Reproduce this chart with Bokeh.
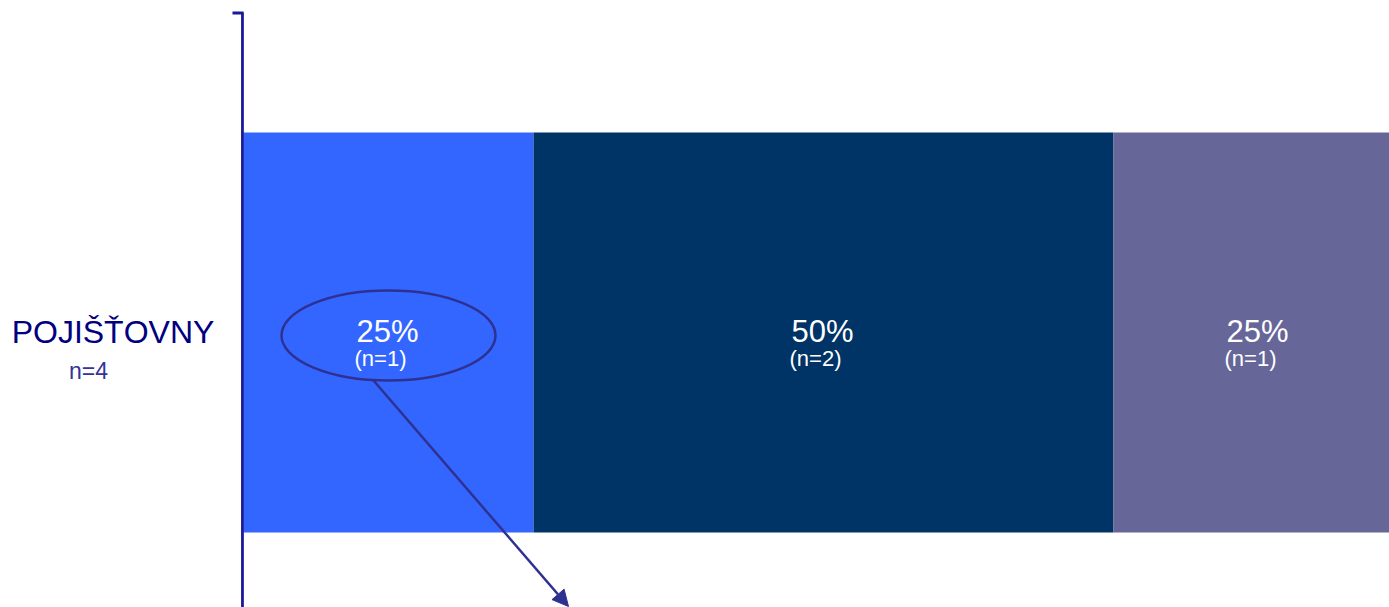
from bokeh.plotting import figure
from bokeh.models import Range1d, Arrow, NormalHead, ColumnDataSource
from bokeh.core.properties import value
from bokeh.embed import file_html
from bokeh.resources import INLINE

# ---- data ----
category = "POJIŠŤOVNY"
n_total = 4
shares = [25, 50, 25]          # percent
counts = [1, 2, 1]
colors = ["#3366FF", "#003366", "#666699"]

# ---- layout helpers (pixel geometry of the page) ----
W, H = 1389, 607
PX_PER_PCT = 11.6
X0_PX = 243
x_start = -X0_PX / PX_PER_PCT
x_end = (W - X0_PX) / PX_PER_PCT

p = figure(width=W, height=H, output_backend="svg", toolbar_location=None,
           x_range=Range1d(x_start, x_end), y_range=Range1d(H, 0),
           x_axis_location=None, y_axis_location=None, min_border=0,
           outline_line_color=None, background_fill_color="white")
p.grid.visible = False

bar_center = 332
bar_height = 400

lefts, rights, mids = [], [], []
acc = 0
for s in shares:
    lefts.append(acc)
    rights.append(acc + s)
    mids.append(acc + s / 2)
    acc += s

src = ColumnDataSource(dict(left=lefts, right=rights, mid=mids, color=colors,
                            pct=[f"{s}%" for s in shares],
                            n=[f"(n={c})" for c in counts],
                            y=[bar_center] * len(shares)))

p.hbar(y="y", left="left", right="right", height=bar_height, fill_color="color",
       line_color=None, source=src)

font = value("Liberation Sans")
p.text(x="mid", y=bar_center - 1, text="pct", source=src, text_color="white",
       text_font=font, text_font_size="31px", text_align="center",
       text_baseline="alphabetic", x_offset=-1)
p.text(x="mid", y=bar_center + 26, text="n", source=src, text_color="white",
       text_font=font, text_font_size="22px", text_align="center",
       text_baseline="alphabetic", x_offset=-8)

# axis line with top tick
p.segment(x0=[-0.09], y0=[12], x1=[-0.09], y1=[H + 5], line_color="#1a1a99",
          line_width=2.8)
p.segment(x0=[-11 / PX_PER_PCT], y0=[12.5], x1=[0], y1=[12.5],
          line_color="#1a1a99", line_width=2.8)

# category label
cat_x = (112.5 - X0_PX) / PX_PER_PCT
p.text(x=[cat_x], y=[331], text=[category], text_color="#000080",
       text_font=font, text_font_size="32px", text_align="center",
       text_baseline="alphabetic")
p.text(x=[(88 - X0_PX) / PX_PER_PCT], y=[370], text=[f"n={n_total}"],
       text_color="#333399", text_font=font, text_font_size="23px",
       text_align="center", text_baseline="alphabetic")

# highlight ellipse on first segment
p.ellipse(x=[mids[0]], y=[335], width=[214], height=[90],
          width_units="screen", height_units="screen",
          fill_color=None, line_color="#2e3192", line_width=2.5)

# arrow from ellipse
p.add_layout(Arrow(x_start=(373 - X0_PX) / PX_PER_PCT, y_start=380,
                   x_end=(568 - X0_PX) / PX_PER_PCT, y_end=606,
                   line_color="#2e3192", line_width=2.5,
                   end=NormalHead(size=16, fill_color="#2e3192",
                                  line_color="#2e3192")))

open("out.html", "w").write(file_html(p, INLINE))
